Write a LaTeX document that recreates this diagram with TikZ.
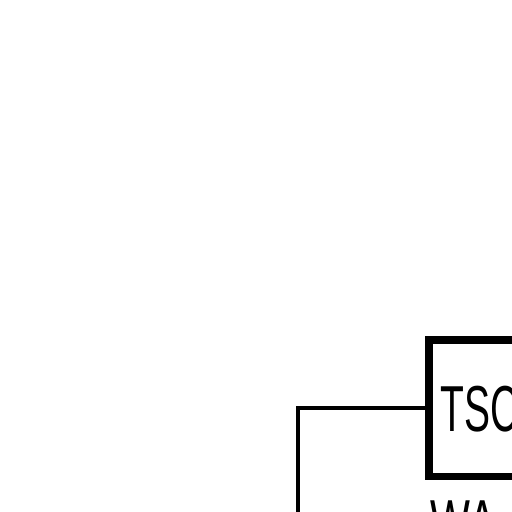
\documentclass[tikz,border=0pt]{standalone}
\usepackage{fontspec}
\setmainfont{Liberation Sans}
\begin{document}
\begin{tikzpicture}[x=1pt,y=1pt,
  blockbox/.style={draw=black,line width=7.5pt,minimum width=220pt,minimum height=136.5pt,inner sep=0pt,outer sep=0pt,anchor=north west},
  biglabel/.style={anchor=base west,inner sep=0pt,font=\fontsize{65}{65}\selectfont},
  wire/.style={draw=black,line width=3.5pt}]
\useasboundingbox (0,0) rectangle (512,512);
\clip (0,0) rectangle (512,512);
\node[blockbox] (box) at (429,172) {};
\node[biglabel] (tsc) at (440,80.3) {\scalebox{0.6}[1]{TSC}};
\node[biglabel] (wa) at (430,-34) {\scalebox{0.65}[1]{WA}};
\coordinate (wireend) at (298,-20);
\draw[wire] (wireend) |- (box.west);
\end{tikzpicture}
\end{document}
